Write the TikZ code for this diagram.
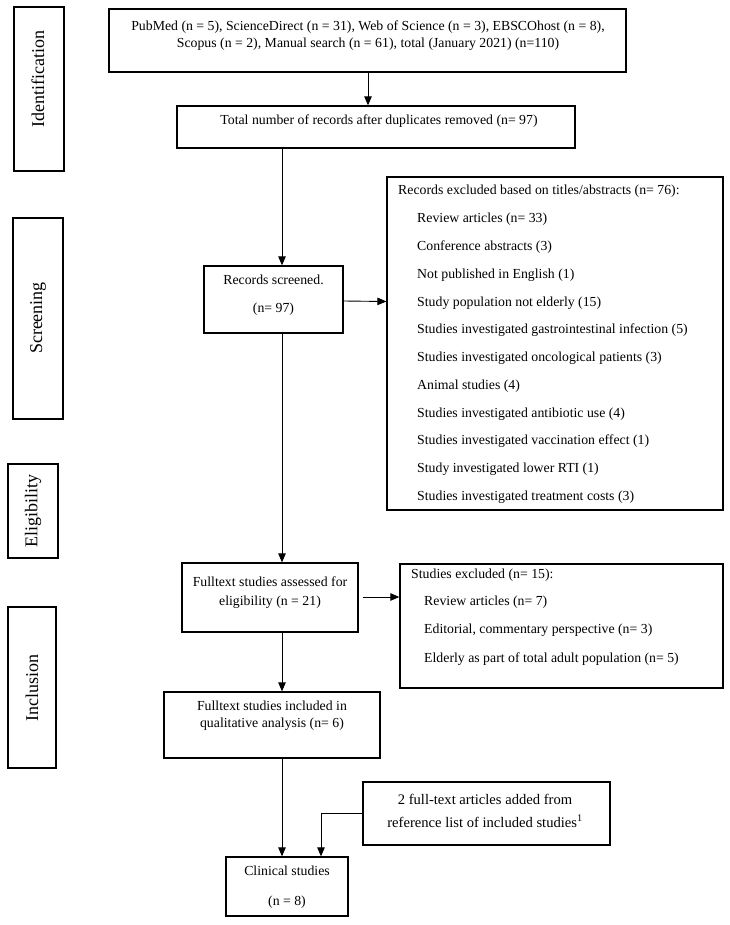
\documentclass[tikz,border=0pt]{standalone}
\usepackage{fontspec}
\setmainfont{Liberation Serif}
\usetikzlibrary{arrows.meta,calc}
\begin{document}
\begin{tikzpicture}[x=1pt,y=-1pt,
  boxst/.style={draw, line width=1.3pt, inner sep=0pt},
  arr/.style={line width=0.9pt, -{Triangle[length=9pt,width=7.5pt]}},
  ln/.style={line width=0.9pt},
  txt/.style={font=\fontsize{13.8}{17}\selectfont, inner sep=0pt, align=center},
  item/.style={font=\fontsize{13.8}{17}\selectfont, inner sep=0pt, anchor=west},
  side/.style={font=\fontsize{18}{20}\selectfont, inner sep=0pt, rotate=90}]
\newcommand\mybox[5]{\node[boxst, minimum width={(#4-#2)*1pt}, minimum height={(#5-#3)*1pt}] (#1) at ({(#2+#4)/2},{(#3+#5)/2}) {};}
\useasboundingbox[fill=white] (0,0) rectangle (729,925);

% side boxes
\mybox{sid}{14}{7}{64}{171}
\node[side] (sid-t) at (38,79) {Identification};
\mybox{ssc}{13}{218}{63}{419}
\node[side] (ssc-t) at (38,318) {Screening};
\mybox{sel}{8}{464}{58}{558}
\node[side] (sel-t) at (33,511) {Eligibility};
\mybox{sin}{8}{607}{56}{768}
\node[side] (sin-t) at (32,688) {Inclusion};

% main boxes
\mybox{top}{109}{9}{626}{72}
\node[txt] (top-t) at (368,35.5) {PubMed (n = 5), ScienceDirect (n = 31), Web of Science (n = 3), EBSCOhost (n = 8),\\ Scopus (n = 2), Manual search (n = 61), total (January 2021) (n=110)};

\mybox{dup}{177}{106}{575}{148}
\node[txt] (dup-t) at (379,121) {Total number of records after duplicates removed (n= 97)};

\mybox{rs}{204}{266}{343}{333}
\node[txt, font=\fontsize{13.8}{28}\selectfont] (rs-t) at (273.5,295) {Records screened.\\(n= 97)};

\mybox{ex}{387}{177}{723}{510}
\node[item] (ex-t) at (398,191) {Records excluded based on titles/abstracts (n= 76):};
\foreach \t [count=\i from 0] in {Review articles (n= 33),Conference abstracts (3),Not published in English (1),Study population not elderly (15),Studies investigated gastrointestinal infection (5),Studies investigated oncological patients (3),Animal studies (4),Studies investigated antibiotic use (4),Studies investigated vaccination effect (1),Study investigated lower RTI (1),Studies investigated treatment costs (3)}
  \node[item] (ex-\i) at (417,{219.5+27.75*\i}) {\t};

\mybox{fa}{182}{563}{358}{632}
\node[txt, font=\fontsize{13.8}{19}\selectfont] (fa-t) at (270,592.5) {Fulltext studies assessed for\\eligibility (n = 21)};

\mybox{se}{400}{564}{723}{688}
\node[item] (se-t) at (411,575) {Studies excluded (n= 15):};
\node[item] (se-1) at (424,602) {Review articles (n= 7)};
\node[item] (se-2) at (424,630.5) {Editorial, commentary perspective (n= 3)};
\node[item] (se-3) at (424,659) {Elderly as part of total adult population (n= 5)};

\mybox{inc}{164}{692}{380}{758}
\node[txt] (inc-t) at (272,715.5) {Fulltext studies included in\\qualitative analysis (n= 6)};

\mybox{ref}{363}{782}{610}{845}
\node[txt, font=\fontsize{14.6}{23}\selectfont] (ref-t) at (485,810.5) {2 full-text articles added from\\reference list of included studies\textsuperscript{1}};

\mybox{cl}{226}{857}{348}{916}
\node[txt, font=\fontsize{13.8}{30}\selectfont] (cl-t) at (287,887) {Clinical studies\\(n = 8)};

% connectors
\coordinate (c1) at (368,0);
\coordinate (c2) at (282,0);
\coordinate (c3) at (321,0);
\draw[arr] (top.south -| c1) -- (dup.north -| c1);
\draw[arr] (dup.south -| c2) -- (rs.north -| c2);
\draw[arr] ([yshift=-1.5pt]rs.east) -- ([yshift=-2pt]ex.west |- rs.east);
\draw[arr] (rs.south -| c2) -- (fa.north -| c2);
\draw[arr] ([xshift=4pt,yshift=0.5pt]fa.east) -- ([yshift=0.5pt]se.west |- fa.east);
\draw[arr] (fa.south -| c2) -- (inc.north -| c2);
\draw[arr] (inc.south -| c2) -- (cl.north -| c2);
\draw[arr] (ref.west) -| (cl.north -| c3);
\end{tikzpicture}
\end{document}
